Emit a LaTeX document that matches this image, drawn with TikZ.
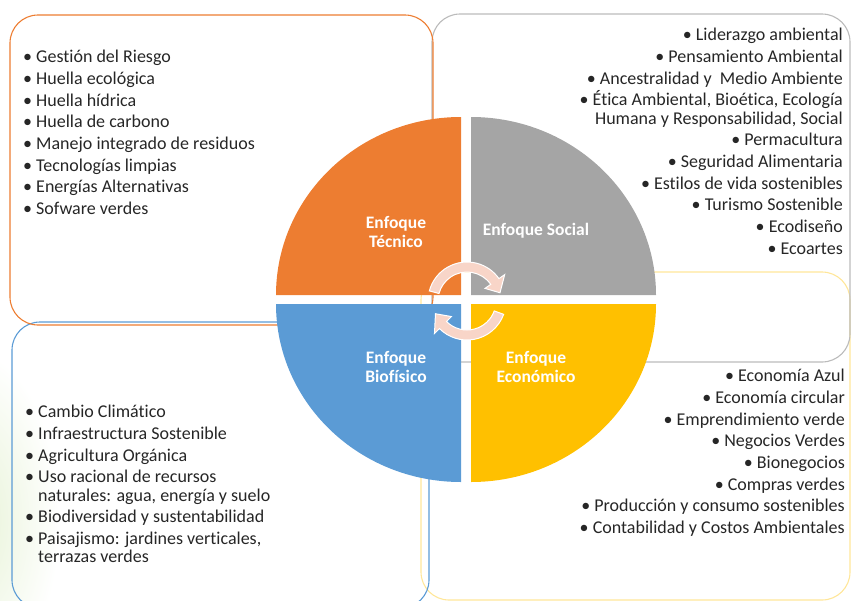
\documentclass[tikz,border=0pt]{standalone}
\usepackage{fontspec}
\setmainfont{Carlito}[Ligatures=NoCommon]
\usepackage{xcolor}
\definecolor{tecOrange}{HTML}{ED7D31}
\definecolor{socGray}{HTML}{A5A5A5}
\definecolor{bioBlue}{HTML}{5B9BD5}
\definecolor{ecoYellow}{HTML}{FFC000}
\definecolor{cyclePink}{HTML}{F8D5C8}
\definecolor{listText}{HTML}{262626}
\definecolor{bgGreen}{HTML}{E6F2D5}

\begin{document}
\begin{tikzpicture}[x=1pt, y=1pt,
    box/.style={rounded corners=28pt, line width=1.1pt},
    quadtitle/.style={white, font=\bfseries\fontsize{17.5}{19}\selectfont, align=center, inner sep=0pt},
    itemlist/.style={listText, inner sep=0pt, font=\fontsize{18}{18.3}\selectfont},
    cyclearrow/.style={fill=cyclePink, draw=white, line width=1pt}]
    \useasboundingbox (0,0) rectangle (851,-600);
    \shade[inner color=bgGreen, outer color=white] (-30,-520) ellipse [x radius=90, y radius=170];

    % frames behind the wheel
    \draw[box, draw=ecoYellow!40] (421,-272) rectangle (850,-600);
    \draw[box, draw=bioBlue] (12,-322) rectangle (429,-608);
    \draw[box, draw=socGray!75] (432,-14) rectangle (850,-362);
    \draw[box, draw=tecOrange] (10,-15) rectangle (433,-325);

    % the four quarters
    \fill[tecOrange] (461,-295) -- ++(-185,0) arc[start angle=180, end angle=90, x radius=185, y radius=178] -- cycle;
    \fill[socGray] (471,-295) -- ++(0,178) arc[start angle=90, end angle=0, x radius=185, y radius=178] -- cycle;
    \fill[bioBlue] (461,-304) -- ++(-185,0) arc[start angle=180, end angle=270, x radius=185, y radius=178] -- cycle;
    \fill[ecoYellow] (471,-304) -- ++(185,0) arc[start angle=0, end angle=-90, x radius=185, y radius=178] -- cycle;

    \node[quadtitle] (tecnico) at (396,-232) {Enfoque\\Técnico};
    \node[quadtitle] (social) at (536,-231) {Enfoque Social};
    \node[quadtitle] (biofisico) at (396,-367) {Enfoque\\Biofísico};
    \node[quadtitle] (economico) at (536,-367) {Enfoque\\Económico};

    % cycle arrows
    \begin{scope}[shift={(467,-301)}]
      \filldraw[cyclearrow] (165:39) arc[start angle=165, end angle=35, radius=39] -- (35:46) -- (14:34) -- (35:22) -- (35:29) arc[start angle=35, end angle=165, radius=29] -- cycle;
      \filldraw[cyclearrow] (-20:39) arc[start angle=-20, end angle=-135, radius=39] -- (-135:46) -- (-158:34) -- (-135:22) -- (-135:29) arc[start angle=-135, end angle=-20, radius=29] -- cycle;
    \end{scope}

    % lists
    \node[itemlist, anchor=north west, align=left] (listTecnico) at (23,-50) {%
      • Gestión del Riesgo\\[3.4pt]
      • Huella ecológica\\[3.4pt]
      • Huella hídrica\\[3.4pt]
      • Huella de carbono\\[3.4pt]
      • Manejo integrado de residuos\\[3.4pt]
      • Tecnologías limpias\\[3.4pt]
      • Energías Alternativas\\[3.4pt]
      • Sofware verdes};
    \node[itemlist, anchor=north east, align=right] (listSocial) at (843,-28) {%
      • Liderazgo ambiental\\[3.4pt]
      • Pensamiento Ambiental\\[3.4pt]
      • Ancestralidad y\ \ Medio Ambiente\\[3.4pt]
      • Ética Ambiental, Bioética, Ecología\\
      Humana y Responsabilidad, Social\\[3.4pt]
      • Permacultura\\[3.4pt]
      • Seguridad Alimentaria\\[3.4pt]
      • Estilos de vida sostenibles\\[3.4pt]
      • Turismo Sostenible\\[3.4pt]
      • Ecodiseño\\[3.4pt]
      • Ecoartes};
    \node[itemlist, anchor=north west, align=left] (listBiofisico) at (25,-405) {%
      • Cambio Climático\\[3.4pt]
      • Infraestructura Sostenible\\[3.4pt]
      • Agricultura Orgánica\\[3.4pt]
      • Uso racional de recursos\\
      \hphantom{• }naturales: agua, energía y suelo\\[3.4pt]
      • Biodiversidad y sustentabilidad\\[3.4pt]
      • Paisajismo: jardines verticales,\\
      \hphantom{• }terrazas verdes};
    \node[itemlist, anchor=north east, align=right] (listEconomico) at (845,-369) {%
      • Economía Azul\\[3.4pt]
      • Economía circular\\[3.4pt]
      • Emprendimiento verde\\[3.4pt]
      • Negocios Verdes\\[3.4pt]
      • Bionegocios\\[3.4pt]
      • Compras verdes\\[3.4pt]
      • Producción y consumo sostenibles\\[3.4pt]
      • Contabilidad y Costos Ambientales};
\end{tikzpicture}
\end{document}
